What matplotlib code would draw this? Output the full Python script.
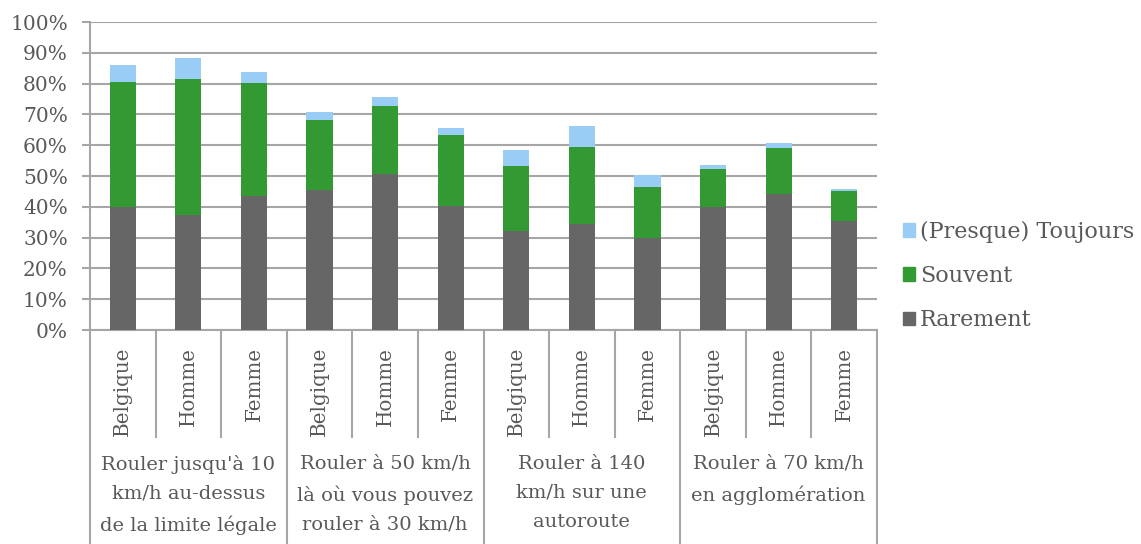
import matplotlib
matplotlib.use("Agg")
import matplotlib.pyplot as plt
from matplotlib.patches import Patch
import numpy as np

plt.rcParams['font.family'] = ['DejaVu Serif']

groups = ["Rouler jusqu'à 10\nkm/h au-dessus\nde la limite légale",
          "Rouler à 50 km/h\nlà où vous pouvez\nrouler à 30 km/h",
          "Rouler à 140\nkm/h sur une\nautoroute",
          "Rouler à 70 km/h\nen agglomération"]
subgroups = ["Belgique", "Homme", "Femme"]

# Shares per bar (in %), ordered group by group: Belgique, Homme, Femme
rarement = [40.0, 37.2, 43.4, 45.6, 50.6, 40.4, 32.2, 34.5, 29.9, 39.8, 44.0, 35.4]
souvent = [40.6, 44.2, 36.8, 22.6, 22.2, 23.0, 21.1, 25.0, 16.6, 12.5, 15.2, 9.6]
toujours = [5.3, 6.9, 3.7, 2.5, 3.0, 2.3, 5.2, 6.7, 3.8, 1.2, 1.4, 0.7]

c_rare = "#666666"
c_souv = "#339933"
c_touj = "#99CDF5"
txt = "#595959"
grid_c = "#A6A6A6"

fig = plt.figure(figsize=(11.41, 5.44), dpi=100)
ax = fig.add_axes([90 / 1141, 214 / 544, 787 / 1141, 308 / 544])

n = len(rarement)
x = np.arange(n)
r = np.array(rarement)
s = np.array(souvent)
t = np.array(toujours)
w = 0.4
ax.bar(x, r, w, color=c_rare, zorder=3)
ax.bar(x, s, w, bottom=r, color=c_souv, zorder=3)
ax.bar(x, t, w, bottom=r + s, color=c_touj, zorder=3)

ax.set_xlim(-0.5, n - 0.5)
ax.set_ylim(0, 100)
ax.set_yticks(np.arange(0, 101, 10))
ax.set_yticklabels([f"{v}%" for v in range(0, 101, 10)])
ax.yaxis.grid(True, color=grid_c, linewidth=1.5, zorder=0)
ax.set_xticks([])
for side in ("top", "right", "bottom"):
    ax.spines[side].set_visible(False)
ax.spines["left"].set_color(grid_c)
ax.spines["left"].set_linewidth(1.5)
ax.tick_params(axis="y", length=6, width=1.5, color=grid_c, pad=10,
               labelsize=14.5, labelcolor=txt)

# Two-level category axis drawn below the plot
tr = ax.get_xaxis_transform()
line_kw = dict(color=grid_c, linewidth=1.5, transform=tr, clip_on=False)
ax.plot([-0.5, n - 0.5], [0, 0], **line_kw)
sub_bottom = -107 / 308
grp_bottom = -214 / 308
for k in range(n + 1):
    xb = k - 0.5
    yb = grp_bottom if k % 3 == 0 else sub_bottom
    ax.plot([xb, xb], [0, yb], **line_kw)

for i in range(n):
    ax.text(i, -17 / 308, subgroups[i % 3], rotation=90, ha="center", va="top",
            fontsize=14.3, color=txt, transform=tr)

for g, label in enumerate(groups):
    ax.text(3 * g + 1, -125 / 308, label, ha="center", va="top",
            multialignment="center", fontsize=14, color=txt,
            linespacing=1.78, transform=tr)

handles = [Patch(color=c_touj), Patch(color=c_souv), Patch(color=c_rare)]
labels = ["(Presque) Toujours", "Souvent", "Rarement"]
fig.legend(handles, labels, loc="center left", bbox_to_anchor=(903 / 1141, 1 - 276 / 544),
           frameon=False, fontsize=16, labelcolor=txt, handlelength=0.55,
           handleheight=0.55, handletextpad=0.2, labelspacing=1.0,
           borderaxespad=0, borderpad=0)

fig.savefig("out.png", dpi=100)
